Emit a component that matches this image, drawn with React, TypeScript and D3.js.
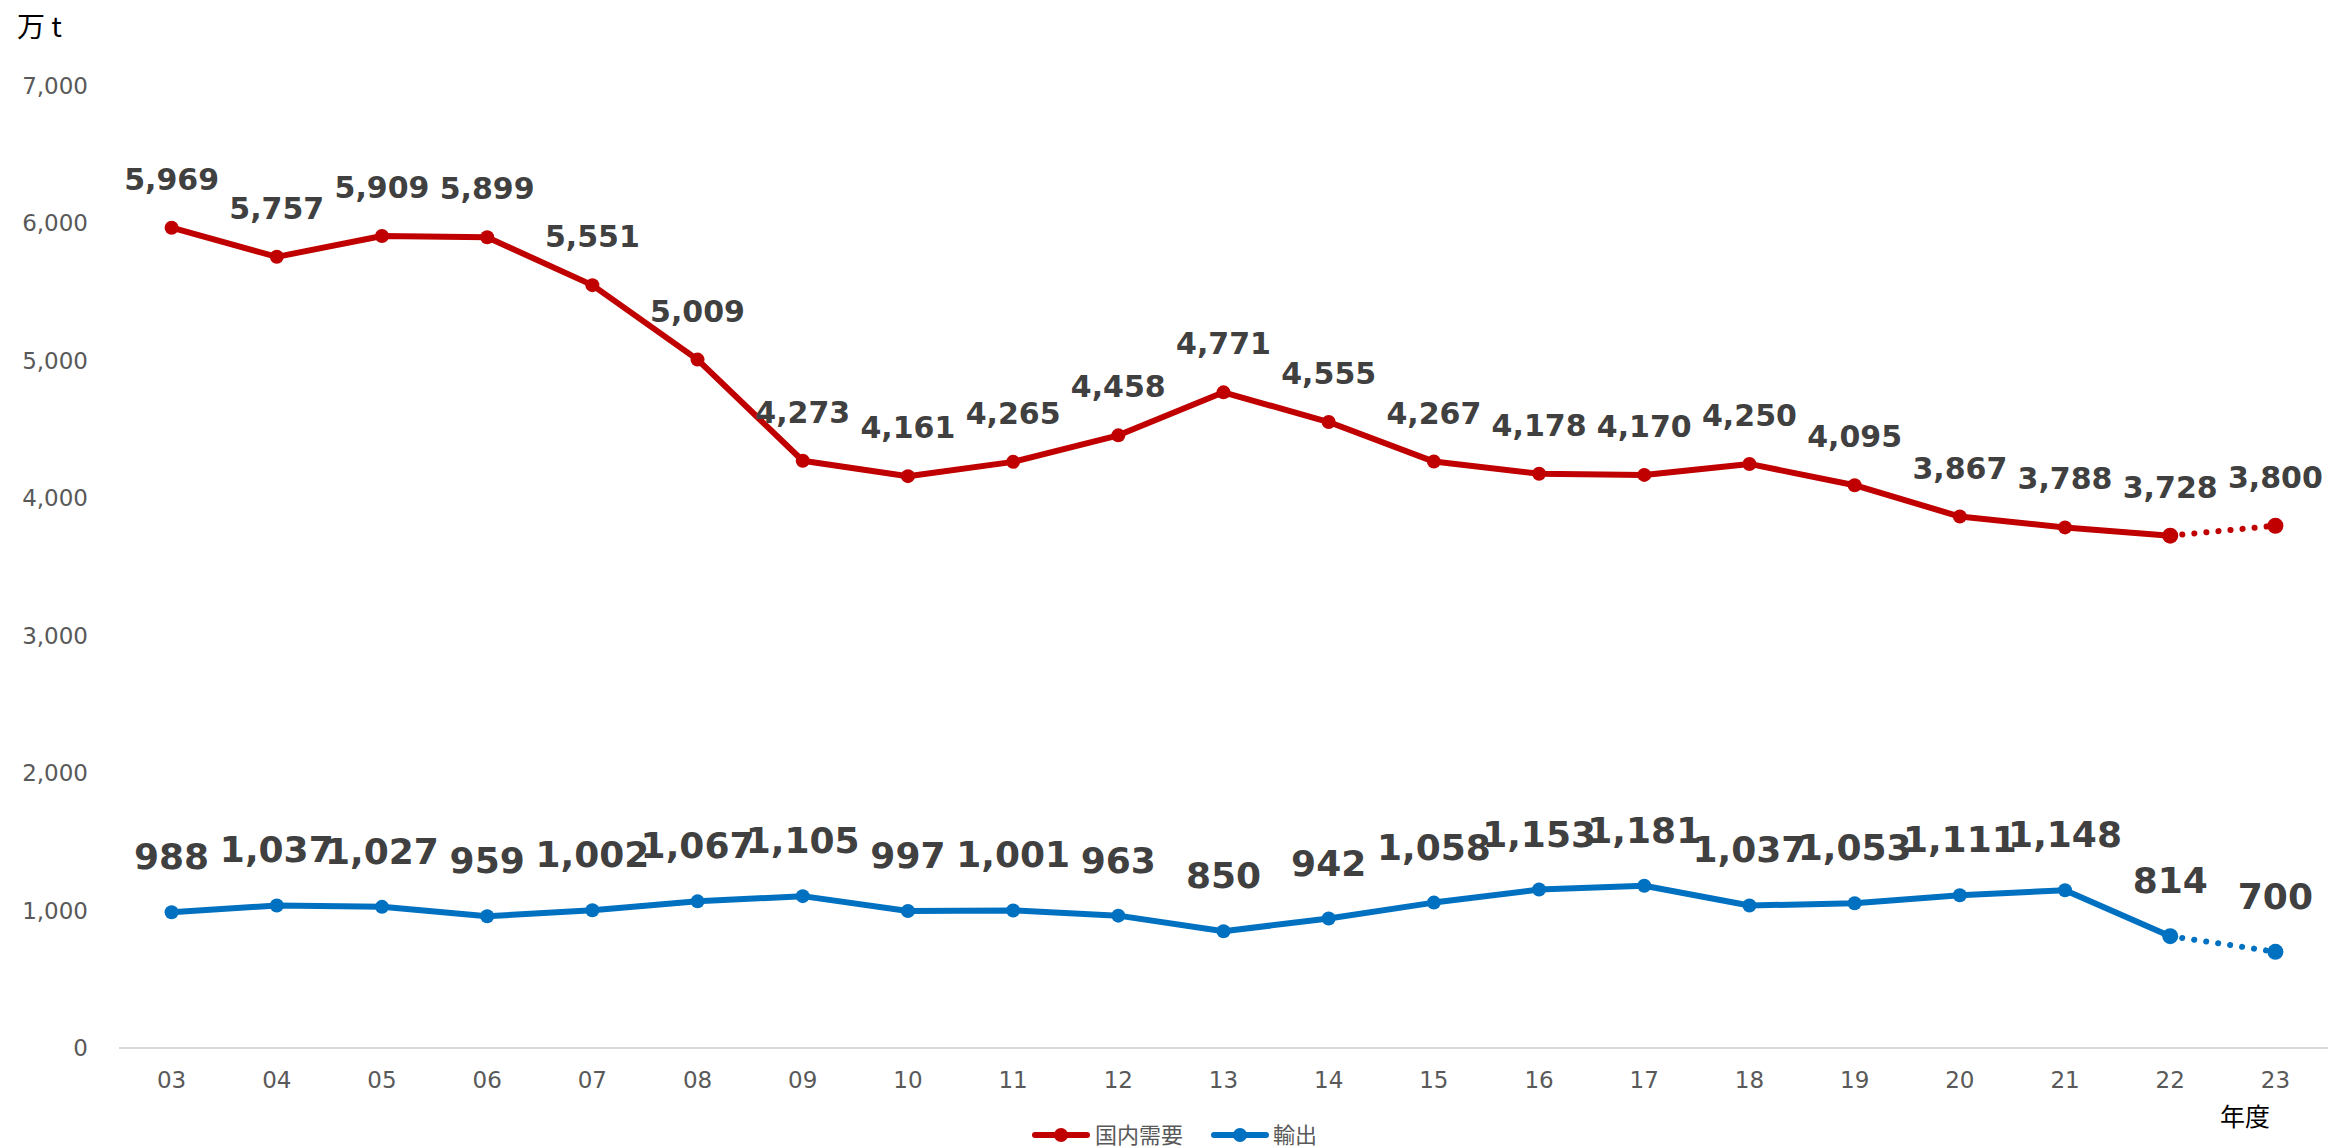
import * as React from "react"
import * as d3 from "d3"

const years = ["03", "04", "05", "06", "07", "08", "09", "10", "11", "12", "13", "14", "15", "16", "17", "18", "19", "20", "21", "22", "23"]
const domestic = [5969, 5757, 5909, 5899, 5551, 5009, 4273, 4161, 4265, 4458, 4771, 4555, 4267, 4178, 4170, 4250, 4095, 3867, 3788, 3728, 3800]
const exports = [988, 1037, 1027, 959, 1002, 1067, 1105, 997, 1001, 963, 850, 942, 1058, 1153, 1181, 1037, 1053, 1111, 1148, 814, 700]
const yTicks = [0, 1000, 2000, 3000, 4000, 5000, 6000, 7000]

const W = 2328
const H = 1148
const RED = "#C00000"
const BLUE = "#0070C0"
const NUM_FONT = "'DejaVu Sans', Verdana, sans-serif"
const JP_FONT = "'Noto Sans CJK JP', sans-serif"

interface Series {
    readonly name: string
    readonly values: ReadonlyArray<number>
    readonly color: string
    readonly labelSize: number
    readonly labelGap: number
}

const series: ReadonlyArray<Series> = [
    { name: "国内需要", values: domestic, color: RED, labelSize: 30, labelGap: 38 },
    { name: "輸出", values: exports, color: BLUE, labelSize: 36, labelGap: 43 },
]

export default function App(): JSX.Element {
    const x = d3.scalePoint<string>().domain(years).range([119, 2328]).padding(0.5)
    const y = d3.scaleLinear().domain([0, 7000]).range([1048, 86])
    const fmt = d3.format(",")
    const last = years.length - 1

    // points as [year, value] so solid / dotted parts share one generator
    const line = d3.line<[string, number]>()
        .x((d) => x(d[0]) as number)
        .y((d) => y(d[1]))

    return (
        <svg width={W} height={H} style={{ position: "absolute", left: 0, top: 0, background: "#fff" }}>
            {/* unit */}
            <text x={17} y={37} fontFamily={JP_FONT} fontSize={28} fill="#000">万 t</text>

            {/* y axis labels */}
            {yTicks.map((t) => (
                <text key={t} x={88} y={y(t)} dy="0.35em" textAnchor="end"
                    fontFamily={NUM_FONT} fontSize={23} fill="#595959">{fmt(t)}</text>
            ))}

            {/* x axis */}
            <line x1={119} x2={W} y1={y(0)} y2={y(0)} stroke="#D9D9D9" strokeWidth={2} />
            {years.map((yr) => (
                <text key={yr} x={x(yr)} y={1080} dy="0.35em" textAnchor="middle"
                    fontFamily={NUM_FONT} fontSize={23} fill="#595959">{yr}</text>
            ))}
            <text x={2245} y={1117} dy="0.35em" textAnchor="middle" fontFamily={JP_FONT} fontSize={25} fill="#000">年度</text>

            {series.map((s) => {
                const pts = s.values.map((v, i) => [years[i], v] as [string, number])
                return (
                    <g key={s.name}>
                        <path d={line(pts.slice(0, last)) || ""} fill="none" stroke={s.color}
                            strokeWidth={6} strokeLinejoin="round" />
                        <path d={line(pts.slice(last - 1)) || ""}
                            fill="none" stroke={s.color} strokeWidth={6} strokeLinecap="round" strokeDasharray="0.1 12" />
                        {pts.map((p, i) => (
                            <circle key={i} cx={x(p[0])} cy={y(p[1])} r={i >= last - 1 ? 8 : 7} fill={s.color} />
                        ))}
                        {pts.map((p, i) => (
                            <text key={"l" + i} x={x(p[0])} y={y(p[1]) - s.labelGap} textAnchor="middle"
                                fontFamily={NUM_FONT} fontWeight="bold" fontSize={s.labelSize} fill="#404040">{fmt(p[1])}</text>
                        ))}
                    </g>
                )
            })}

            {/* legend */}
            <g>
                <line x1={1035} x2={1087} y1={1135} y2={1135} stroke={RED} strokeWidth={6} strokeLinecap="round" />
                <circle cx={1061} cy={1135} r={7} fill={RED} />
                <text x={1095} y={1135} dy="0.35em" fontFamily={JP_FONT} fontSize={22} fill="#595959">国内需要</text>
                <line x1={1214} x2={1266} y1={1135} y2={1135} stroke={BLUE} strokeWidth={6} strokeLinecap="round" />
                <circle cx={1240} cy={1135} r={7} fill={BLUE} />
                <text x={1273} y={1135} dy="0.35em" fontFamily={JP_FONT} fontSize={22} fill="#595959">輸出</text>
            </g>
        </svg>
    )
}
